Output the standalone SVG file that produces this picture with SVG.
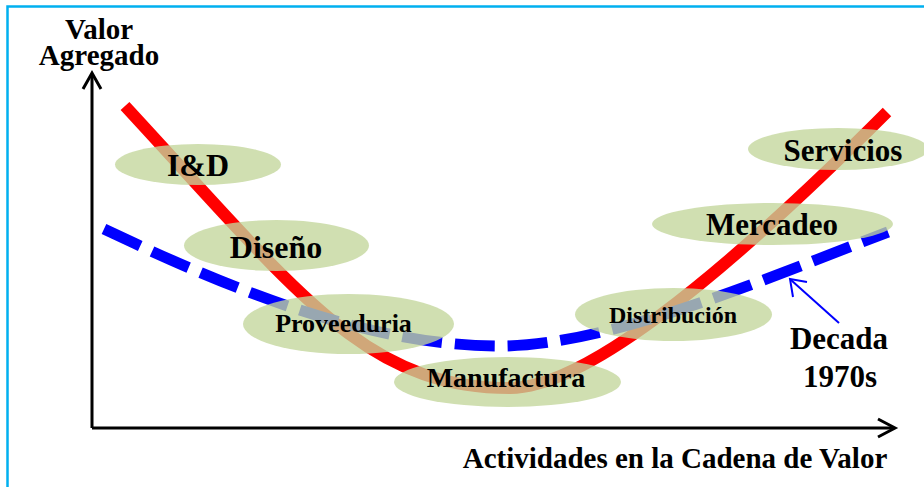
<svg xmlns="http://www.w3.org/2000/svg" width="924" height="487" viewBox="0 0 924 487">
  <style>
    .t { font-family: "Liberation Serif", "Times New Roman", serif; font-weight: bold; fill: #000; text-anchor: middle; }
    .bubble { fill: #C3D69B; fill-opacity: 0.78; stroke: none; }
    .axis { fill: none; stroke: #000; stroke-width: 3; stroke-linecap: butt; stroke-linejoin: miter; }
  </style>
  <rect x="0" y="0" width="924" height="487" fill="#fff"/>
  <rect id="frame" x="7.5" y="6.5" width="940" height="500" fill="none" stroke="#00B0F0" stroke-width="2.5"/>

  <g id="connectors">
    <path id="y-axis" class="axis" d="M92,428 L92,74"/>
    <polyline class="axis" points="83,89 92,73 101,89"/>
    <path id="x-axis" class="axis" d="M92,428 L894,428"/>
    <polyline class="axis" points="878,419 895,428 878,437"/>
    <path id="curve-actual" d="M125,106 C299,294 365,388 510,388 C580,388 707,292 887,112" fill="none" stroke="#FF0000" stroke-width="12" stroke-linecap="butt"/>
    <path id="curve-1970s" d="M104,229 C234,291 370,346 500,346 C612,346 776,274.6 888,232" fill="none" stroke="#0000FF" stroke-width="11" stroke-linecap="butt" stroke-dasharray="40 13"/>
    <g id="callout" fill="none" stroke="#0000FF" stroke-width="2">
      <line x1="839" y1="323" x2="791" y2="280"/>
      <polyline points="793,297 790,279 807,282"/>
    </g>
  </g>

  <g id="axis-labels">
    <text class="t" font-size="29"><tspan x="99" y="39">Valor</tspan><tspan x="99" y="65">Agregado</tspan></text>
    <text class="t" x="675" y="468" font-size="29">Actividades en la Cadena de Valor</text>
  </g>

  <g id="node-id">
    <ellipse class="bubble" cx="198" cy="164.5" rx="83" ry="20.5"/>
    <text class="t" x="198" y="176" font-size="32">I&amp;D</text>
  </g>
  <g id="node-diseno">
    <ellipse class="bubble" cx="276.5" cy="245.5" rx="92.5" ry="25.5"/>
    <text class="t" x="276" y="258" font-size="32">Diseño</text>
  </g>
  <g id="node-proveeduria">
    <ellipse class="bubble" cx="348.5" cy="324" rx="105.5" ry="30"/>
    <text class="t" x="343.5" y="332" font-size="26">Proveeduria</text>
  </g>
  <g id="node-manufactura">
    <ellipse class="bubble" cx="507.5" cy="382" rx="113.5" ry="25"/>
    <text class="t" x="506" y="387" font-size="28">Manufactura</text>
  </g>
  <g id="node-distribucion">
    <ellipse class="bubble" cx="673.5" cy="314.5" rx="98.5" ry="26.5"/>
    <text class="t" x="673" y="323" font-size="24">Distribución</text>
  </g>
  <g id="node-mercadeo">
    <ellipse class="bubble" cx="772.5" cy="224" rx="120.5" ry="21"/>
    <text class="t" x="772" y="235" font-size="31">Mercadeo</text>
  </g>
  <g id="node-servicios">
    <ellipse class="bubble" cx="838" cy="149" rx="90" ry="21"/>
    <text class="t" x="843" y="161" font-size="31">Servicios</text>
  </g>
  <g id="node-decada">
    <text class="t" font-size="31"><tspan x="839" y="349">Decada</tspan><tspan x="840" y="387">1970s</tspan></text>
  </g>
</svg>
